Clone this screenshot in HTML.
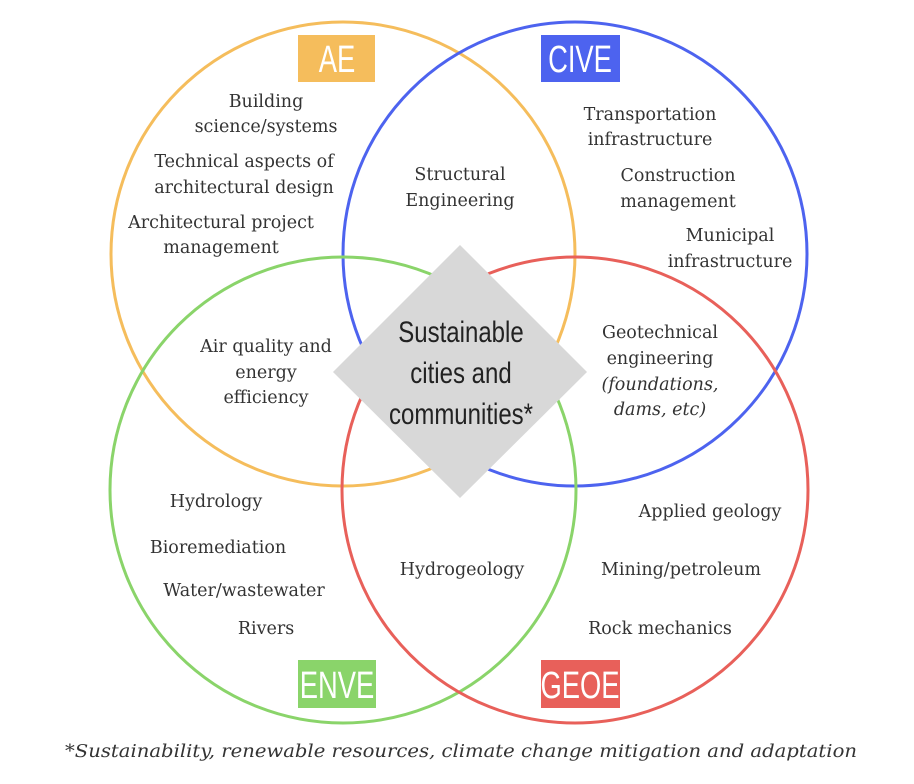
<!DOCTYPE html>
<html><head><meta charset="utf-8"><style>
html,body{margin:0;padding:0;background:#fff;}
svg{display:block}
.t{font-family:"DejaVu Serif",serif;font-size:17.5px;fill:#333;text-anchor:middle}
.l{font-family:"Liberation Sans",sans-serif;font-size:38px;fill:#fff;text-anchor:middle}
.c{font-family:"Liberation Sans",sans-serif;font-size:30px;fill:#222;text-anchor:middle}
</style></head><body>
<svg width="914" height="784" viewBox="0 0 914 784" xmlns="http://www.w3.org/2000/svg">
<circle cx="343" cy="254" r="232" fill="none" stroke="#f5bd5c" stroke-width="3"/>
<circle cx="575" cy="254" r="232" fill="none" stroke="#4d63ef" stroke-width="3"/>
<circle cx="343" cy="490" r="233" fill="none" stroke="#8ad46a" stroke-width="3"/>
<circle cx="575" cy="490" r="233" fill="none" stroke="#e8605a" stroke-width="3"/>
<polygon points="460,245 587,372 460,498 333,372" fill="#d8d8d8"/>
<rect x="298" y="35" width="77" height="47" fill="#f5bd5c"/>
<rect x="541" y="35" width="79" height="47" fill="#4d63ef"/>
<rect x="298" y="660" width="78" height="48" fill="#8ad46a"/>
<rect x="541" y="660" width="79" height="48" fill="#e8605a"/>
<text class="l" x="337" y="72" transform="translate(337 0) scale(0.72 1) translate(-337 0)">AE</text>
<text class="l" x="580" y="72" transform="translate(580 0) scale(0.72 1) translate(-580 0)">CIVE</text>
<text class="l" x="337" y="698" transform="translate(337 0) scale(0.72 1) translate(-337 0)">ENVE</text>
<text class="l" x="580" y="698" transform="translate(580 0) scale(0.72 1) translate(-580 0)">GEOE</text>
<g transform="translate(461 0) scale(0.8 1) translate(-461 0)">
<text class="c" x="461" y="342">Sustainable</text>
<text class="c" x="461" y="383">cities and</text>
<text class="c" x="461" y="424">communities*</text>
</g>
<text class="t" x="266" y="107">Building</text>
<text class="t" x="266" y="132">science/systems</text>
<text class="t" x="244" y="167">Technical aspects of</text>
<text class="t" x="244" y="193">architectural design</text>
<text class="t" x="221" y="228">Architectural project</text>
<text class="t" x="221" y="253">management</text>
<text class="t" x="460" y="180">Structural</text>
<text class="t" x="460" y="206">Engineering</text>
<text class="t" x="650" y="120">Transportation</text>
<text class="t" x="650" y="145">infrastructure</text>
<text class="t" x="678" y="181">Construction</text>
<text class="t" x="678" y="207">management</text>
<text class="t" x="730" y="241">Municipal</text>
<text class="t" x="730" y="267">infrastructure</text>
<text class="t" x="266" y="352">Air quality and</text>
<text class="t" x="266" y="378">energy</text>
<text class="t" x="266" y="403">efficiency</text>
<text class="t" x="660" y="338">Geotechnical</text>
<text class="t" x="660" y="364">engineering</text>
<text class="t" x="660" y="390" font-style="italic">(foundations,</text>
<text class="t" x="660" y="415" font-style="italic">dams, etc)</text>
<text class="t" x="216" y="507">Hydrology</text>
<text class="t" x="218" y="553">Bioremediation</text>
<text class="t" x="244" y="596">Water/wastewater</text>
<text class="t" x="266" y="634">Rivers</text>
<text class="t" x="462" y="575">Hydrogeology</text>
<text class="t" x="710" y="517">Applied geology</text>
<text class="t" x="681" y="575">Mining/petroleum</text>
<text class="t" x="660" y="634">Rock mechanics</text>
<text class="t" x="461" y="757" font-style="italic" font-size="18" textLength="792" lengthAdjust="spacingAndGlyphs">*Sustainability, renewable resources, climate change mitigation and adaptation</text>
</svg>
</body></html>
